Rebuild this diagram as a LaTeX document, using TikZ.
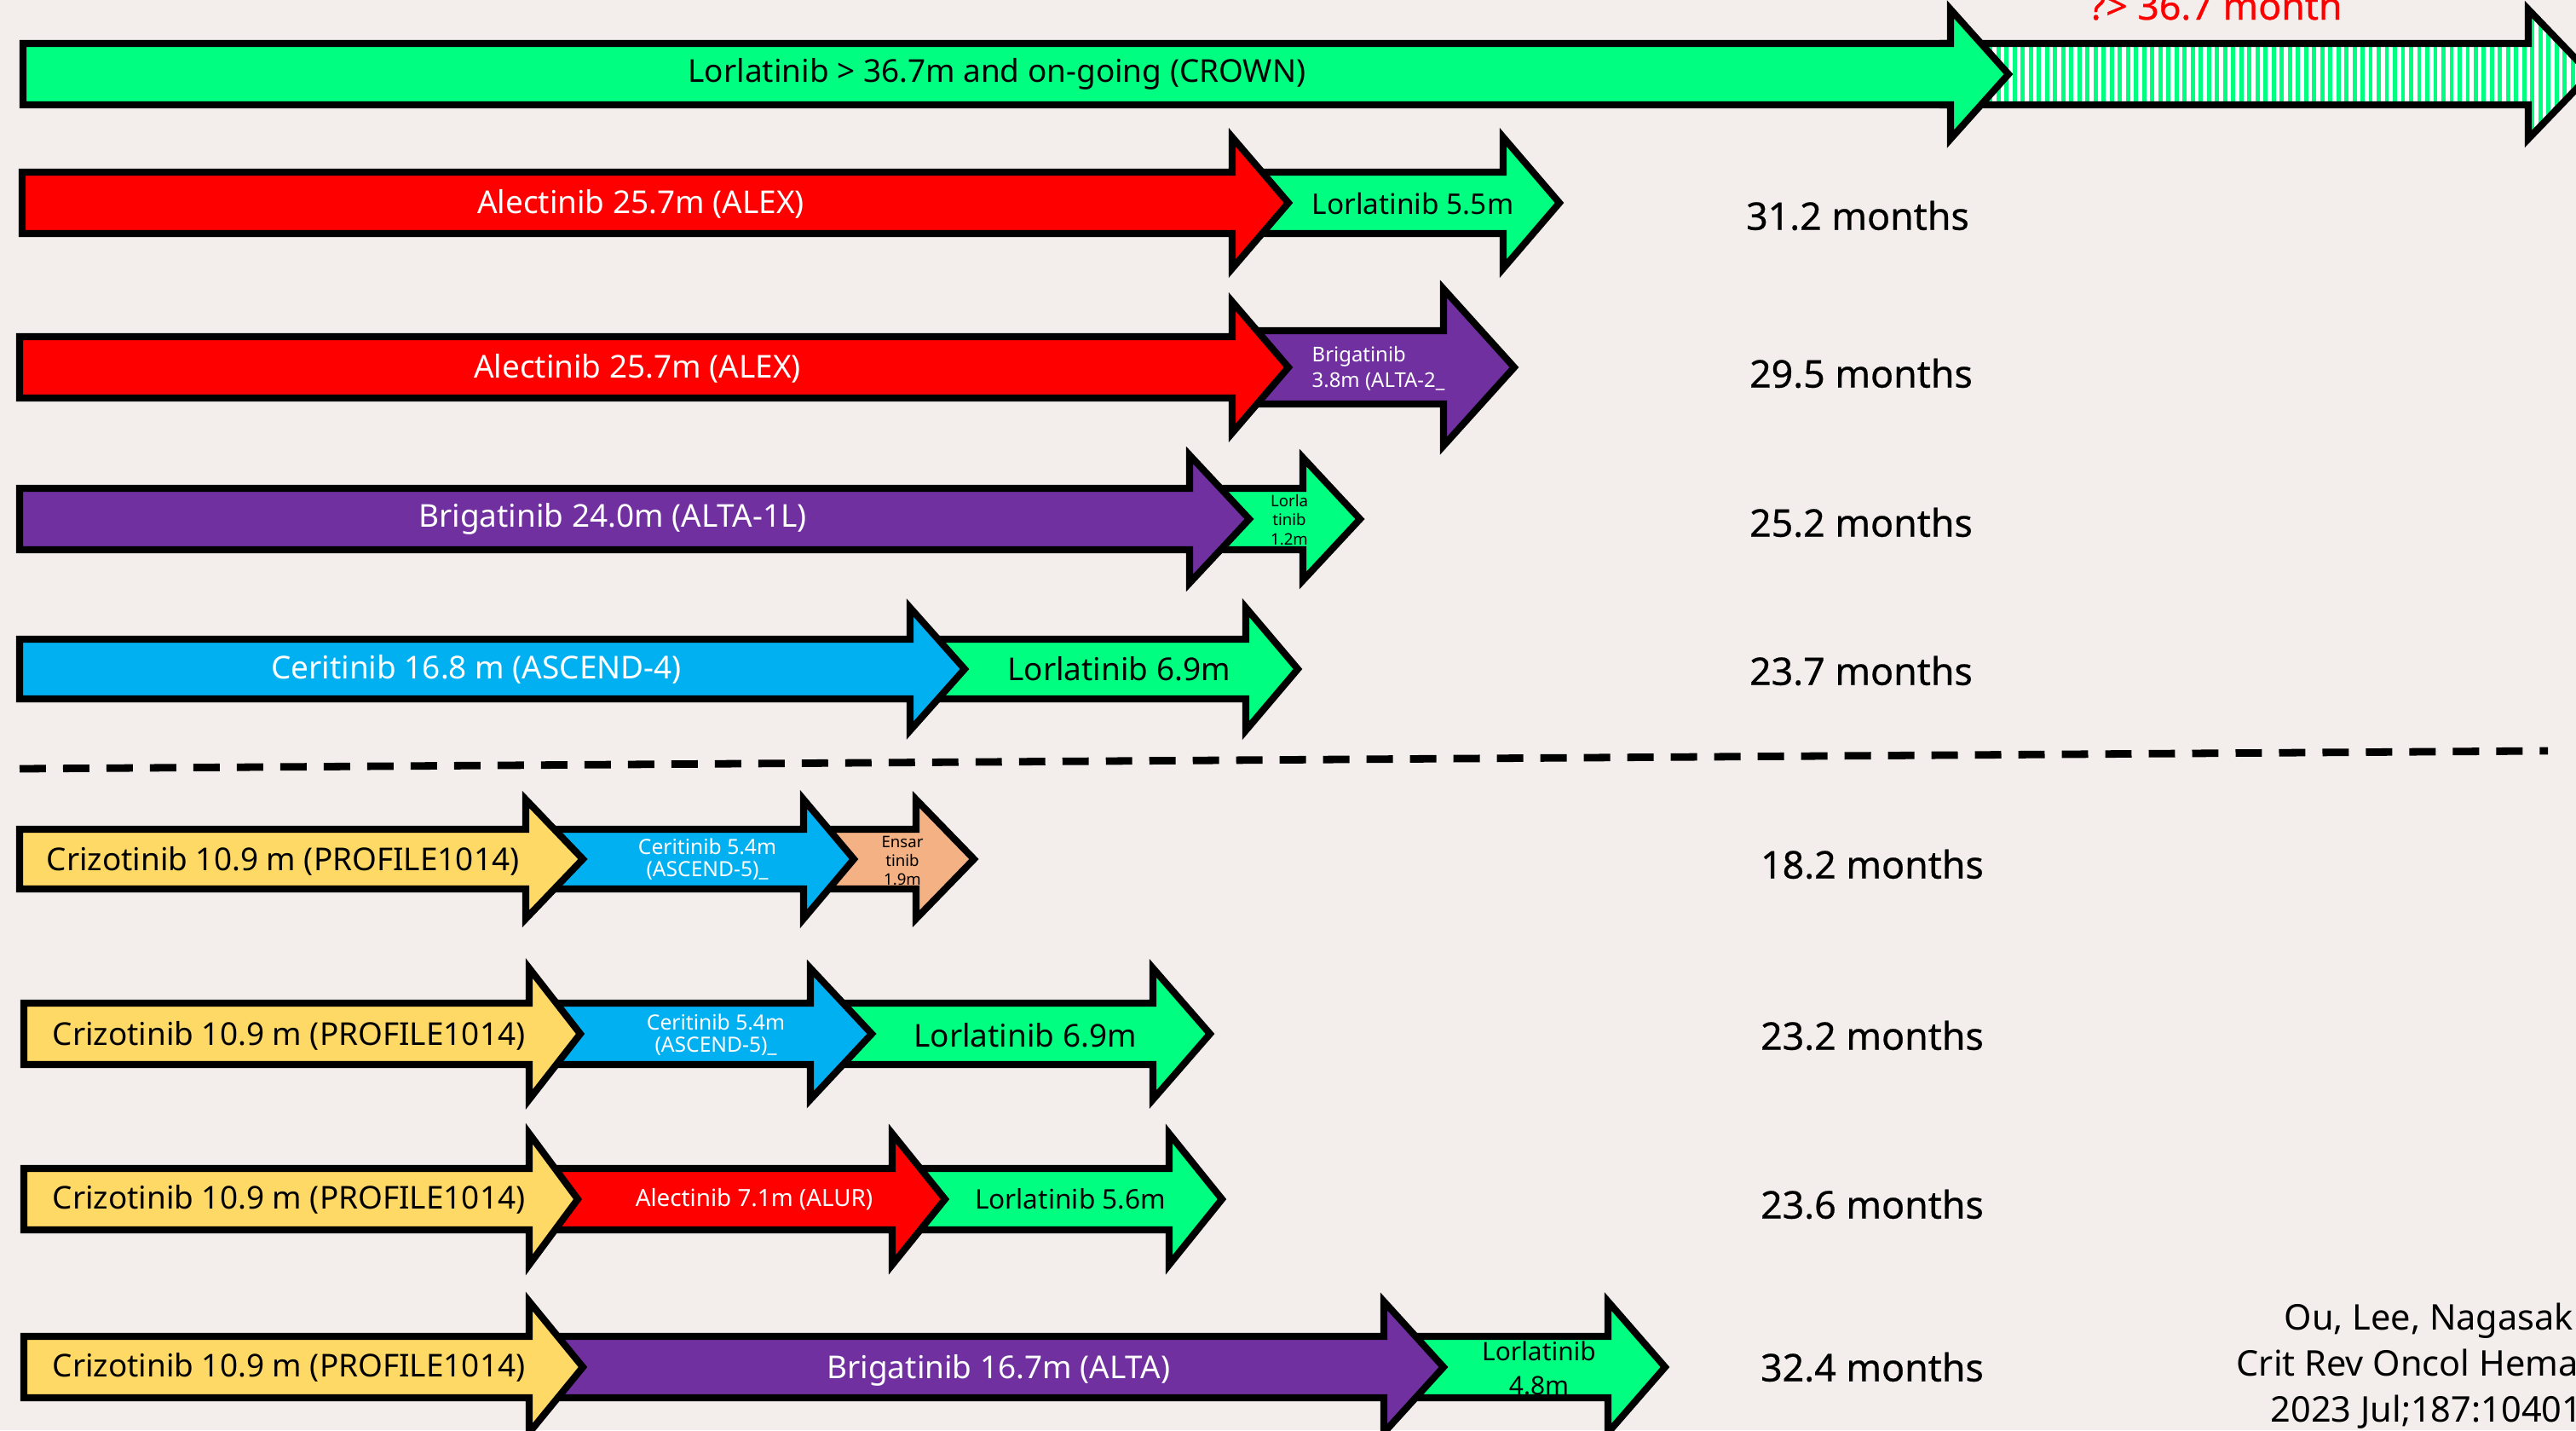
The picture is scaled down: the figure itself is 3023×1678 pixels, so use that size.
\documentclass[tikz,border=0pt]{standalone}
\usepackage{fontspec}
\setmainfont{Noto Sans}
\newfontfamily\monthsfont[FakeBold=0.6]{Noto Sans}
\usepackage{tikz}
\usetikzlibrary{patterns.meta}
\usepackage{xcolor}
\definecolor{bgpaper}{RGB}{243, 238, 236}
\definecolor{lorgreen}{RGB}{0, 255, 128}
\definecolor{alered}{RGB}{255, 0, 0}
\definecolor{brigpurple}{RGB}{112, 48, 160}
\definecolor{ceriblue}{RGB}{0, 176, 240}
\definecolor{crizyellow}{RGB}{255, 217, 102}
\definecolor{ensarorange}{RGB}{244, 177, 131}

% one block arrow: style, x0, head base, tip, y, half shaft, half head
\newcommand{\drugarrow}[7]{%
  \draw[arrowline, #1] (#2,#5-#6) -- (#3,#5-#6) -- (#3,#5-#7) -- (#4,#5)
    -- (#3,#5+#7) -- (#3,#5+#6) -- (#2,#5+#6) -- cycle;}

\begin{document}
\begin{tikzpicture}[x=0.01cm, y=-0.01cm,
  arrowline/.style={draw=black, line width=2.3pt, line join=miter},
  wlabel/.style={text=white, font=\fontsize{10.5}{12}\selectfont, inner sep=0pt},
  blabel/.style={text=black, font=\fontsize{10.5}{12}\selectfont, inner sep=0pt},
  smalllabel/.style={font=\fontsize{7}{7.5}\selectfont, align=center, inner sep=0pt},
  tinylabel/.style={font=\fontsize{5.3}{6.3}\selectfont, align=center, inner sep=0pt},
  months/.style={font=\monthsfont\fontsize{12.7}{15}\selectfont, inner sep=0pt},
  cite/.style={font=\fontsize{11.8}{14}\selectfont, anchor=base west, inner sep=0pt}]
  \fill[bgpaper] (0,0) rectangle (3023,1678);
  \useasboundingbox (0,0) rectangle (3023,1678);

  % first line: lorlatinib (CROWN)
  \drugarrow{preaction={fill=white}, pattern={Lines[angle=90, distance=2.7pt, line width=1.4pt]}, pattern color=lorgreen}{2280}{2967}{3040}{87}{36}{76}
  \drugarrow{fill=lorgreen}{27}{2289}{2357}{87}{36}{76}
  \node[blabel] (crown) at (1170,87) {Lorlatinib > 36.7m and on-going (CROWN)};
  \node[anchor=base west, text=alered, months] (ongoing) at (2451,23) {?> 36.7 month};

  % alectinib -> lorlatinib
  \drugarrow{fill=lorgreen}{1456}{1764}{1830}{238}{36}{77}
  \drugarrow{fill=alered}{26}{1446}{1512}{238}{36}{77}
  \node[wlabel] (alexA) at (752,239) {Alectinib 25.7m (ALEX)};
  \node[blabel, font=\fontsize{9.5}{11}\selectfont] (lorA) at (1658,239) {Lorlatinib 5.5m};

  % alectinib -> brigatinib
  \drugarrow{fill=brigpurple}{1470}{1694}{1777}{431}{43}{92}
  \drugarrow{fill=alered}{23}{1446}{1512}{431}{36}{77}
  \node[wlabel] (alexB) at (748,432) {Alectinib 25.7m (ALEX)};
  \node[smalllabel, text=white, align=left, anchor=west,
    font=\fontsize{6.8}{8.5}\selectfont] (brigB) at (1539,432) {Brigatinib\\3.8m (ALTA-2\_};

  % brigatinib -> lorlatinib
  \drugarrow{fill=lorgreen}{1410}{1529}{1596}{609}{36}{72}
  \drugarrow{fill=brigpurple}{23}{1396}{1466}{609}{36}{75}
  \node[wlabel] (brigC) at (719,609) {Brigatinib 24.0m (ALTA-1L)};
  \node[tinylabel] (lorC) at (1513,610) {Lorla\\tinib\\1.2m};

  % ceritinib -> lorlatinib
  \drugarrow{fill=lorgreen}{1100}{1462}{1523}{785}{35}{72}
  \drugarrow{fill=ceriblue}{23}{1068}{1132}{785}{35}{72}
  \node[wlabel] (ceriD) at (559,785) {Ceritinib 16.8 m (ASCEND-4)};
  \node[blabel] (lorD) at (1313,785) {Lorlatinib 6.9m};

  % divider
  \coordinate (divL) at (23,902);
  \coordinate (divR) at (2990,881);
  \draw[line width=2.5pt, dash pattern=on 8.8pt off 5.7pt] (divL) -- (divR);

  % crizotinib -> ceritinib -> ensartinib
  \drugarrow{fill=ensarorange}{960}{1075}{1143}{1008}{35}{70}
  \drugarrow{fill=ceriblue}{640}{943}{1002}{1008}{35}{70}
  \drugarrow{fill=crizyellow}{23}{617}{684}{1008}{35}{70}
  \node[blabel] (crizE) at (332,1010) {Crizotinib 10.9 m (PROFILE1014)};
  \node[smalllabel, text=white] (ceriE) at (830,1008) {Ceritinib 5.4m\\(ASCEND-5)\_};
  \node[tinylabel] (ensE) at (1059,1010) {Ensar\\tinib\\1.9m};

  % crizotinib -> ceritinib -> lorlatinib
  \drugarrow{fill=lorgreen}{965}{1353}{1420}{1213}{36}{77}
  \drugarrow{fill=ceriblue}{640}{951}{1023}{1213}{36}{77}
  \drugarrow{fill=crizyellow}{28}{621}{681}{1213}{36}{77}
  \node[blabel] (crizF) at (339,1215) {Crizotinib 10.9 m (PROFILE1014)};
  \node[smalllabel, text=white] (ceriF) at (840,1214) {Ceritinib 5.4m\\(ASCEND-5)\_};
  \node[blabel] (lorF) at (1203,1215) {Lorlatinib 6.9m};

  % crizotinib -> alectinib -> lorlatinib
  \drugarrow{fill=lorgreen}{1060}{1372}{1434}{1407}{36}{77}
  \drugarrow{fill=alered}{640}{1047}{1109}{1407}{36}{77}
  \drugarrow{fill=crizyellow}{28}{621}{678}{1407}{36}{77}
  \node[blabel] (crizG) at (339,1407) {Crizotinib 10.9 m (PROFILE1014)};
  \node[wlabel, font=\fontsize{7.9}{9}\selectfont] (alurG) at (885,1407) {Alectinib 7.1m (ALUR)};
  \node[blabel, font=\fontsize{9}{10}\selectfont] (lorG) at (1256,1407) {Lorlatinib 5.6m};

  % crizotinib -> brigatinib -> lorlatinib
  \drugarrow{fill=lorgreen}{1640}{1887}{1954}{1604}{36}{77}
  \drugarrow{fill=brigpurple}{640}{1624}{1694}{1604}{36}{77}
  \drugarrow{fill=crizyellow}{28}{621}{684}{1604}{36}{77}
  \node[blabel] (crizH) at (339,1604) {Crizotinib 10.9 m (PROFILE1014)};
  \node[wlabel] (brigH) at (1172,1608) {Brigatinib 16.7m (ALTA)};
  \node[blabel, align=center, font=\fontsize{8.5}{11.4}\selectfont] (lorH) at (1806,1605) {Lorlatinib\\4.8m};

  % total times
  \node[months] (mA) at (2180,253) {31.2 months};
  \node[months] (mB) at (2184,438) {29.5 months};
  \node[months] (mC) at (2184,613) {25.2 months};
  \node[months] (mD) at (2184,787) {23.7 months};
  \node[months] (mE) at (2197,1014) {18.2 months};
  \node[months] (mF) at (2197,1215) {23.2 months};
  \node[months] (mG) at (2197,1413) {23.6 months};
  \node[months] (mH) at (2197,1604) {32.4 months};

  % reference
  \node[cite] (citeA) at (2680,1560) {Ou, Lee, Nagasak};
  \node[cite] (citeB) at (2624,1614) {Crit Rev Oncol Hema};
  \node[cite] (citeC) at (2664,1668) {2023 Jul;187:10401};
\end{tikzpicture}
\end{document}
